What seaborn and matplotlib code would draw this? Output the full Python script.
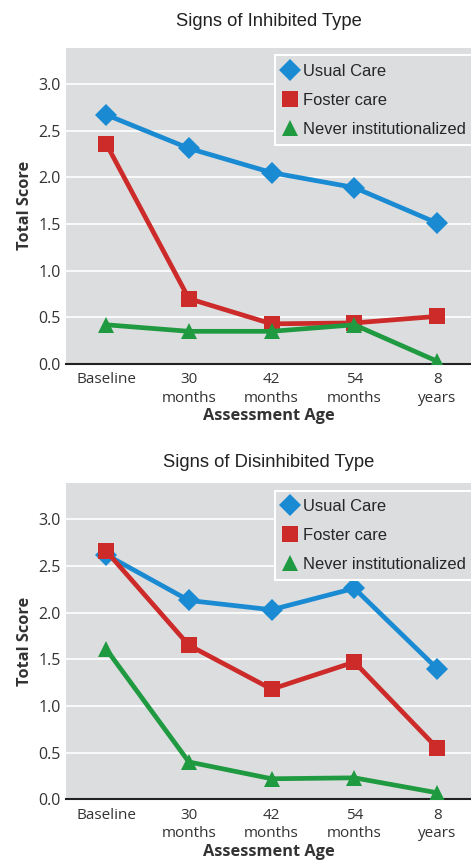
import matplotlib
matplotlib.use("Agg")
import matplotlib.pyplot as plt
import seaborn as sns
import pandas as pd

categories = ["Baseline", "30\nmonths", "42\nmonths", "54\nmonths", "8\nyears"]
groups = ["Usual Care", "Foster care", "Never institutionalized"]

inhib_usual = [2.67, 2.31, 2.05, 1.89, 1.51]
inhib_foster = [2.36, 0.70, 0.43, 0.44, 0.51]
inhib_never = [0.42, 0.35, 0.35, 0.42, 0.03]

disinh_usual = [2.62, 2.13, 2.03, 2.26, 1.40]
disinh_foster = [2.66, 1.65, 1.18, 1.47, 0.55]
disinh_never = [1.61, 0.40, 0.22, 0.23, 0.07]

titles = ["Signs of Inhibited Type", "Signs of Disinhibited Type"]
title_pads = [15.5, 11.5]

colors = {"Usual Care": "#1a8bd2", "Foster care": "#cc2b29", "Never institutionalized": "#1f9a40"}
markers = {"Usual Care": "D", "Foster care": "s", "Never institutionalized": "^"}

sns.set_style("white")
plt.rcParams["font.family"] = ["Liberation Sans", "DejaVu Sans"]
hum = ["Open Sans", "DejaVu Sans"]

fig = plt.figure(figsize=(4.71, 8.65), dpi=100)
axes = [fig.add_axes([66/471, 1-364/865, 405/471, 316.5/865]),
        fig.add_axes([66/471, 1-799.3/865, 405/471, 316.5/865])]

datasets = [(inhib_usual, inhib_foster, inhib_never), (disinh_usual, disinh_foster, disinh_never)]

for ax, title, tpad, data in zip(axes, titles, title_pads, datasets):
    rows = []
    for g, vals in zip(groups, data):
        for i, v in enumerate(vals):
            rows.append({"x": i, "score": v, "group": g})
    df = pd.DataFrame(rows)
    ax.set_facecolor("#dcdddf")
    for y in [0.5, 1.0, 1.5, 2.0, 2.5, 3.0]:
        ax.axhline(y, color="white", lw=1.2, zorder=0)
    sns.lineplot(data=df, x="x", y="score", hue="group", style="group",
                 palette=colors, markers=markers, dashes=False, hue_order=groups,
                 style_order=groups, lw=3.4, markersize=11.5, markeredgewidth=0,
                 ax=ax, zorder=3)
    ax.set_xlim(-0.485, 4.41)
    ax.set_ylim(0, 3.39)
    ax.set_xticks(range(5))
    ax.set_xticklabels(categories, fontsize=11, family=hum, color="#333333", linespacing=1.3)
    ax.set_yticks([0, 0.5, 1.0, 1.5, 2.0, 2.5, 3.0])
    ax.set_yticklabels(["0.0", "0.5", "1.0", "1.5", "2.0", "2.5", "3.0"], fontsize=11.5,
                       family=hum, color="#333333")
    ax.tick_params(axis="x", length=0, pad=6)
    ax.tick_params(axis="y", length=0, pad=4)
    for s in ["top", "right", "left"]:
        ax.spines[s].set_visible(False)
    ax.spines["bottom"].set_color("#222222")
    ax.spines["bottom"].set_linewidth(1.5)
    ax.set_xlabel("Assessment Age", fontsize=11.8, fontweight="bold",
                  family=hum, color="#333333", labelpad=2)
    ax.set_ylabel("Total Score", fontsize=11.8, fontweight="bold",
                  family=hum, color="#333333", labelpad=3.5)
    ax.set_title(title, fontsize=13.2, pad=tpad, color="#222222")
    leg = ax.legend(loc="upper left", bbox_to_anchor=(0.515, 0.975), frameon=True,
                    fontsize=11.9, handlelength=0.9, handletextpad=0.3, labelspacing=0.85,
                    borderpad=0.5, borderaxespad=0, fancybox=False, title=None)
    frame = leg.get_frame()
    frame.set_facecolor("#dcdddf")
    frame.set_edgecolor("white")
    frame.set_linewidth(1.5)
    frame.set_alpha(1)
    for line in leg.get_lines():
        line.set_linestyle("none")
        line.set_markersize(11)

fig.savefig("out.png", dpi=100)
